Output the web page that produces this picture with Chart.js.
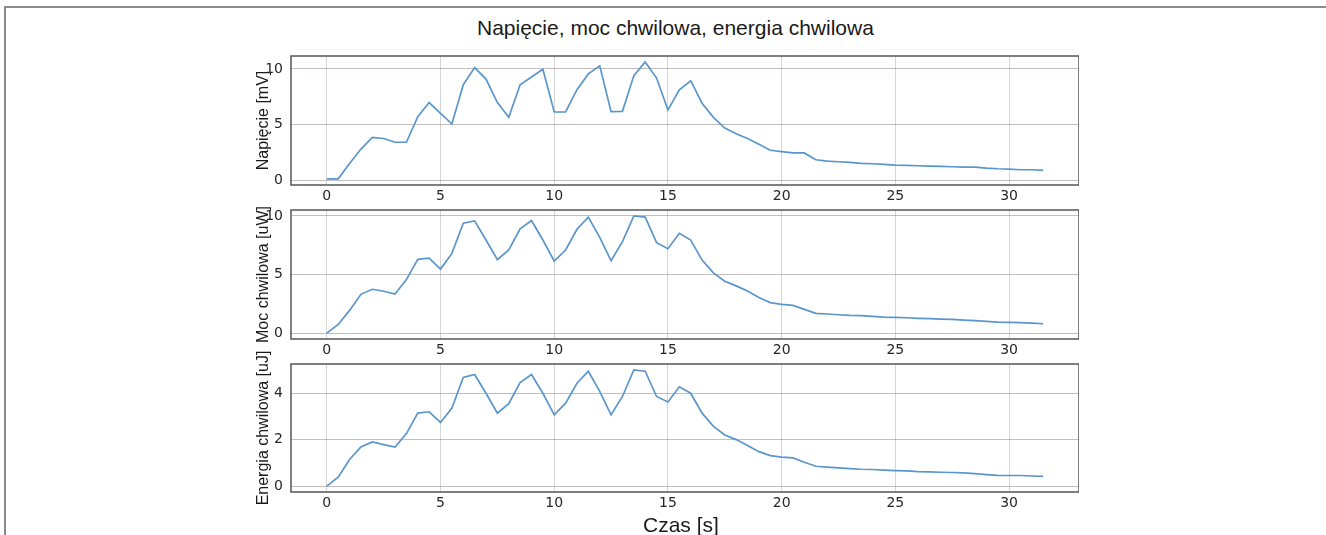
<!DOCTYPE html>
<html>
<head>
<meta charset="utf-8">
<script src="https://cdn.jsdelivr.net/npm/chart.js@4"></script>
<style>
  html, body { margin: 0; padding: 0; background: #fff; }
  #page { position: relative; width: 1326px; height: 535px; overflow: hidden; font-family: "Liberation Sans", Arial, sans-serif; }
  #frame { position: absolute; left: 4px; top: 6px; width: 1340px; height: 560px; border-top: 2px solid #8c8c8c; border-left: 2px solid #8c8c8c; }
  .txt { position: absolute; color: #1a1a1a; white-space: nowrap; }
  .panel { position: absolute; left: 200px; width: 879px; }
</style>
</head>
<body>
<div id="page">
  <div id="frame"></div>
  <div class="txt" id="title" style="left:477px;top:15px;font-size:21px;line-height:25px;">Napięcie, moc chwilowa, energia chwilowa</div>
  <div class="panel" id="p0"><canvas id="c0"></canvas></div>
  <div class="panel" id="p1"><canvas id="c1"></canvas></div>
  <div class="panel" id="p2"><canvas id="c2"></canvas></div>
  <div class="txt" id="xlabel" style="left:643px;top:512px;font-size:21px;line-height:25px;">Czas [s]</div>
</div>
<script>
// czas pomiaru [s]
const czas = [0, 0.5, 1, 1.5, 2, 2.5, 3, 3.5, 4, 4.5, 5, 5.5, 6, 6.5, 7, 7.5, 8, 8.5, 9, 9.5,
  10, 10.5, 11, 11.5, 12, 12.5, 13, 13.5, 14, 14.5, 15, 15.5, 16, 16.5, 17, 17.5, 18, 18.5, 19, 19.5,
  20, 20.5, 21, 21.5, 22, 22.5, 23, 23.5, 24, 24.5, 25, 25.5, 26, 26.5, 27, 27.5, 28, 28.5, 29, 29.5,
  30, 30.5, 31, 31.5];

const napiecie = [0.12, 0.12, 1.5, 2.8, 3.85, 3.75, 3.41, 3.41, 5.7, 6.98, 6.0, 5.05, 8.58, 10.12, 9.09, 6.98, 5.65, 8.58, 9.27, 9.97,
  6.13, 6.13, 8.13, 9.55, 10.27, 6.16, 6.19, 9.4, 10.63, 9.18, 6.31, 8.13, 8.94, 6.92, 5.65, 4.68, 4.17, 3.75, 3.23, 2.69,
  2.57, 2.45, 2.45, 1.84, 1.72, 1.66, 1.6, 1.51, 1.48, 1.42, 1.36, 1.33, 1.3, 1.27, 1.24, 1.21, 1.18, 1.18, 1.09, 1.03,
  1.0, 0.94, 0.94, 0.88];

const moc = [0, 0.74, 1.94, 3.31, 3.74, 3.57, 3.34, 4.57, 6.29, 6.4, 5.46, 6.8, 9.37, 9.57, 7.94, 6.26, 7.09, 8.89, 9.6, 7.94,
  6.14, 7.09, 8.86, 9.89, 8.17, 6.17, 7.8, 10.0, 9.89, 7.71, 7.2, 8.51, 7.94, 6.23, 5.14, 4.43, 4.03, 3.6, 3.03, 2.6,
  2.46, 2.37, 2.03, 1.69, 1.63, 1.57, 1.51, 1.49, 1.43, 1.37, 1.34, 1.31, 1.26, 1.23, 1.2, 1.17, 1.11, 1.06, 1.0, 0.94,
  0.91, 0.89, 0.86, 0.8];

const energia = [0, 0.39, 1.15, 1.69, 1.91, 1.79, 1.69, 2.27, 3.15, 3.21, 2.75, 3.37, 4.69, 4.82, 4.01, 3.15, 3.56, 4.47, 4.82, 4.01,
  3.08, 3.58, 4.44, 4.96, 4.09, 3.08, 3.87, 5.02, 4.96, 3.87, 3.63, 4.29, 4.01, 3.15, 2.58, 2.21, 2.01, 1.76, 1.49, 1.32,
  1.25, 1.22, 1.03, 0.86, 0.82, 0.79, 0.76, 0.73, 0.72, 0.69, 0.67, 0.66, 0.63, 0.62, 0.6, 0.59, 0.57, 0.54, 0.5, 0.47,
  0.46, 0.46, 0.44, 0.42];

const xTicks = [0, 5, 10, 15, 20, 25, 30];
const yTicksNapiecie = [0, 5, 10];
const yTicksMoc = [0, 5, 10];
const yTicksEnergia = [0, 2, 4];

const LINE = '#5a96cc';
const PAD_TOP = 20, X_AXIS_H = 24, Y_AXIS_W = 91;
const TICK_FONT = { family: '"DejaVu Sans", sans-serif', size: 14 };

// ramka wokol obszaru wykresu
const frameBox = {
  id: 'frameBox',
  afterDraw(chart) {
    const { ctx, chartArea: a } = chart;
    ctx.save();
    ctx.strokeStyle = '#555';
    ctx.lineWidth = 1.5;
    ctx.strokeRect(a.left, a.top, a.right - a.left, a.bottom - a.top);
    ctx.restore();
  }
};

const panels = [
  { id: 0, top: 56, h: 129, label: 'Napięcie [mV]', data: napiecie, yMin: -0.43, yMax: 11.16, yTicks: yTicksNapiecie },
  { id: 1, top: 210, h: 129, label: 'Moc chwilowa [uW]', data: moc, yMin: -0.5, yMax: 10.5, yTicks: yTicksMoc },
  { id: 2, top: 364, h: 128, label: 'Energia chwilowa [uJ]', data: energia, yMin: -0.251, yMax: 5.271, yTicks: yTicksEnergia }
];

panels.forEach(p => {
  const box = document.getElementById('p' + p.id);
  box.style.top = (p.top - PAD_TOP) + 'px';
  box.style.height = (PAD_TOP + p.h + X_AXIS_H) + 'px';

  new Chart(document.getElementById('c' + p.id), {
    type: 'line',
    data: {
      datasets: [{
        data: czas.map((t, i) => ({ x: t, y: p.data[i] })),
        borderColor: LINE,
        borderWidth: 1.7,
        pointRadius: 0,
        tension: 0,
        fill: false
      }]
    },
    options: {
      responsive: true, maintainAspectRatio: false, animation: false,
      layout: { padding: { top: PAD_TOP, left: 0, right: 0, bottom: 0 } },
      plugins: { legend: { display: false }, tooltip: { enabled: false } },
      scales: {
        x: {
          type: 'linear', min: -1.575, max: 33.075,
          afterBuildTicks: s => { s.ticks = xTicks.map(v => ({ value: v })); },
          afterFit: s => { s.height = X_AXIS_H; },
          grid: { color: 'rgba(150,150,150,0.4)', lineWidth: 1, drawTicks: false },
          border: { display: false },
          ticks: { padding: 3, color: '#262626', font: TICK_FONT, maxRotation: 0 }
        },
        y: {
          min: p.yMin, max: p.yMax,
          afterBuildTicks: s => { s.ticks = p.yTicks.map(v => ({ value: v })); },
          afterFit: s => { s.width = Y_AXIS_W; },
          grid: { color: 'rgba(140,125,125,0.5)', lineWidth: 1, drawTicks: false },
          border: { display: false },
          ticks: { padding: 8, color: '#262626', font: TICK_FONT },
          title: {
            display: true, text: p.label, color: '#1a1a1a',
            font: { family: '"Liberation Sans", Arial, sans-serif', size: 16 },
            padding: { top: 54, bottom: 0 }
          }
        }
      }
    },
    plugins: [frameBox]
  });
});
</script>
</body>
</html>
